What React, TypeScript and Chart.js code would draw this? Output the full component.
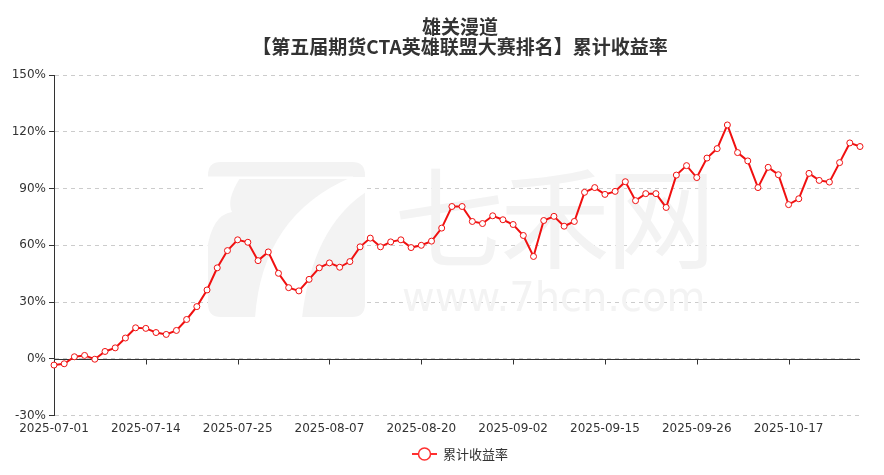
import React, { useEffect, useRef } from "react";
import { Chart, registerables } from "chart.js";

Chart.register(...registerables);

const TITLE_LINES = ["雄关漫道", "【第五届期货CTA英雄联盟大赛排名】累计收益率"];
const SERIES_NAME = "累计收益率";

const DATES = [
  "2025-07-01", "2025-07-02", "2025-07-03", "2025-07-04", "2025-07-07", "2025-07-08", "2025-07-09", "2025-07-10",
  "2025-07-11", "2025-07-14", "2025-07-15", "2025-07-16", "2025-07-17", "2025-07-18", "2025-07-21", "2025-07-22",
  "2025-07-23", "2025-07-24", "2025-07-25", "2025-07-28", "2025-07-29", "2025-07-30", "2025-07-31", "2025-08-01",
  "2025-08-04", "2025-08-05", "2025-08-06", "2025-08-07", "2025-08-08", "2025-08-11", "2025-08-12", "2025-08-13",
  "2025-08-14", "2025-08-15", "2025-08-18", "2025-08-19", "2025-08-20", "2025-08-21", "2025-08-22", "2025-08-25",
  "2025-08-26", "2025-08-27", "2025-08-28", "2025-08-29", "2025-09-01", "2025-09-02", "2025-09-03", "2025-09-04",
  "2025-09-05", "2025-09-08", "2025-09-09", "2025-09-10", "2025-09-11", "2025-09-12", "2025-09-15", "2025-09-16",
  "2025-09-17", "2025-09-18", "2025-09-19", "2025-09-22", "2025-09-23", "2025-09-24", "2025-09-25", "2025-09-26",
  "2025-09-29", "2025-09-30", "2025-10-09", "2025-10-10", "2025-10-13", "2025-10-14", "2025-10-15", "2025-10-16",
  "2025-10-17", "2025-10-20", "2025-10-21", "2025-10-22", "2025-10-23", "2025-10-24", "2025-10-27", "2025-10-28",
];

const SHOWN_X_LABELS = [
  "2025-07-01", "2025-07-14", "2025-07-25", "2025-08-07", "2025-08-20",
  "2025-09-02", "2025-09-15", "2025-09-26", "2025-10-17",
];

const RETURNS = [
  -3.3, -2.6, 1.1, 1.8, -0.2, 3.9, 5.8, 11.0, 16.4, 16.1,
  13.9, 12.9, 15.0, 20.8, 27.6, 36.4, 48.1, 57.2, 62.9, 61.6,
  51.9, 56.5, 45.2, 37.6, 35.9, 42.0, 48.1, 50.7, 48.4, 51.4,
  59.2, 63.8, 59.2, 61.8, 62.9, 58.8, 60.0, 62.2, 69.1, 80.5,
  80.5, 72.6, 71.5, 75.6, 73.5, 71.0, 65.2, 54.1, 73.1, 75.3,
  70.1, 72.6, 88.0, 90.5, 86.9, 88.5, 93.6, 83.6, 87.3, 87.3,
  80.0, 97.1, 102.1, 95.8, 106.1, 111.1, 123.6, 109.0, 104.6, 90.5,
  101.2, 97.3, 81.5, 84.6, 98.0, 94.3, 93.4, 103.7, 114.1, 112.2,
];

const Y_MIN = -30;
const Y_MAX = 150;
const Y_STEP = 30;

const RED = "#f01010";
const AXIS_COLOR = "#333";
const TEXT_COLOR = "#333";
const FONT = "'DejaVu Sans', sans-serif";
const CJK_FONT = "'Noto Sans CJK SC', sans-serif";
const HEADER_CENTER_X = 460;

function roundRect(ctx: any, x: number, y: number, w: number, h: number, r: number) {
  ctx.beginPath();
  ctx.moveTo(x + r, y);
  ctx.lineTo(x + w - r, y);
  ctx.quadraticCurveTo(x + w, y, x + w, y + r);
  ctx.lineTo(x + w, y + h - r);
  ctx.quadraticCurveTo(x + w, y + h, x + w - r, y + h);
  ctx.lineTo(x + r, y + h);
  ctx.quadraticCurveTo(x, y + h, x, y + h - r);
  ctx.lineTo(x, y + r);
  ctx.quadraticCurveTo(x, y, x + r, y);
  ctx.closePath();
}

const watermarkPlugin = {
  id: "watermark",
  beforeDatasetsDraw(chart: any) {
    const ctx = chart.ctx;
    ctx.save();
    // logo block
    ctx.fillStyle = "#f3f3f3";
    roundRect(ctx, 208, 162, 157, 155, 13);
    ctx.fill();
    ctx.fillStyle = "#ffffff";
    // thin separator under the top bar
    ctx.fillRect(208, 176.5, 145, 2.5);
    // left notch
    ctx.beginPath();
    ctx.moveTo(207, 178);
    ctx.lineTo(240, 178);
    ctx.quadraticCurveTo(226, 200, 232, 212);
    ctx.quadraticCurveTo(212, 215, 207, 250);
    ctx.closePath();
    ctx.fill();
    // diagonal band of the "7"
    ctx.beginPath();
    ctx.moveTo(255, 318);
    ctx.quadraticCurveTo(262, 215, 352, 177);
    ctx.lineTo(366, 177);
    ctx.lineTo(366, 192);
    ctx.quadraticCurveTo(312, 228, 302, 318);
    ctx.closePath();
    ctx.fill();
    // text
    ctx.fillStyle = "#f3f3f3";
    ctx.font = `110px ${CJK_FONT}`;
    ctx.textBaseline = "middle";
    ctx.textAlign = "left";
    const chars = ["七", "禾", "网"];
    chars.forEach((c, i) => ctx.fillText(c, 394 + i * 106, 218));
    ctx.font = `40px ${FONT}`;
    ctx.fillText("www.7hcn.com", 402, 301);
    ctx.restore();
  },
};

const axisPlugin = {
  id: "zeroAxis",
  beforeDatasetsDraw(chart: any) {
    const { ctx, chartArea } = chart;
    const y = Math.round(chart.scales.y.getPixelForValue(0)) + 0.5;
    ctx.save();
    ctx.strokeStyle = AXIS_COLOR;
    ctx.lineWidth = 1;
    ctx.beginPath();
    ctx.moveTo(chartArea.left, y);
    ctx.lineTo(chartArea.right, y);
    DATES.forEach((d, i) => {
      if (i > 0 && SHOWN_X_LABELS.includes(d)) {
        const x = Math.round(chart.scales.x.getPixelForValue(i)) + 0.5;
        ctx.moveTo(x, y);
        ctx.lineTo(x, y + 5);
      }
    });
    ctx.stroke();
    ctx.restore();
  },
};

const headerLegendPlugin = {
  id: "headerLegend",
  afterDraw(chart: any) {
    const ctx = chart.ctx;
    ctx.save();
    // title
    ctx.fillStyle = TEXT_COLOR;
    ctx.font = `bold 19px ${CJK_FONT}`;
    ctx.textAlign = "center";
    ctx.textBaseline = "middle";
    ctx.fillText(TITLE_LINES[0], HEADER_CENTER_X, 27);
    ctx.fillText(TITLE_LINES[1], HEADER_CENTER_X, 47);
    // legend
    const cy = 454;
    const x0 = 412;
    ctx.strokeStyle = "#ff3030";
    ctx.lineWidth = 2;
    ctx.beginPath();
    ctx.moveTo(x0, cy);
    ctx.lineTo(x0 + 25, cy);
    ctx.stroke();
    ctx.beginPath();
    ctx.arc(x0 + 12.5, cy, 6, 0, Math.PI * 2);
    ctx.fillStyle = "#fff";
    ctx.fill();
    ctx.lineWidth = 1.5;
    ctx.stroke();
    ctx.fillStyle = TEXT_COLOR;
    ctx.font = `13px ${CJK_FONT}`;
    ctx.textBaseline = "middle";
    ctx.textAlign = "left";
    ctx.fillText(SERIES_NAME, x0 + 31, cy);
    ctx.restore();
  },
};

export default function App() {
  const ref = useRef<HTMLCanvasElement | null>(null);

  useEffect(() => {
    if (!ref.current) return;
    const chart = new Chart(ref.current, {
      type: "line",
      data: {
        labels: DATES,
        datasets: [
          {
            label: SERIES_NAME,
            data: RETURNS,
            borderColor: RED,
            borderWidth: 2,
            pointRadius: 3,
            pointBorderWidth: 1,
            pointBackgroundColor: "#fff",
            pointBorderColor: RED,
            tension: 0,
          },
        ],
      },
      options: {
        animation: false,
        responsive: true,
        maintainAspectRatio: false,
        layout: { padding: { top: 75, left: 0, right: 24, bottom: 33 } },
        plugins: {
          legend: { display: false },
          tooltip: { enabled: false },
          title: { display: false },
        },
        scales: {
          x: {
            type: "category",
            offset: false,
            grid: { display: false, drawTicks: false },
            border: { display: false },
            ticks: {
              autoSkip: false,
              maxRotation: 0,
              minRotation: 0,
              padding: 6,
              color: TEXT_COLOR,
              font: { size: 12, family: FONT },
              callback: (_v: any, i: number) => (SHOWN_X_LABELS.includes(DATES[i]) ? DATES[i] : ""),
            },
          },
          y: {
            min: Y_MIN,
            max: Y_MAX,
            afterFit: (scale: any) => {
              scale.width = 54;
            },
            ticks: {
              stepSize: Y_STEP,
              padding: 3,
              color: TEXT_COLOR,
              font: { size: 12, family: FONT },
              callback: (v: any) => `${v}%`,
            },
            grid: {
              color: "#cccccc",
              tickColor: AXIS_COLOR,
              tickLength: 5,
              drawTicks: true,
            },
            border: { display: true, color: AXIS_COLOR, width: 1, dash: [4, 4] },
          },
        },
      },
      plugins: [watermarkPlugin, axisPlugin, headerLegendPlugin],
    });
    return () => chart.destroy();
  }, []);

  return (
    <div style={{ position: "fixed", left: 0, top: 0, width: 884, height: 475, background: "#fff" }}>
      <canvas ref={ref} />
    </div>
  );
}
